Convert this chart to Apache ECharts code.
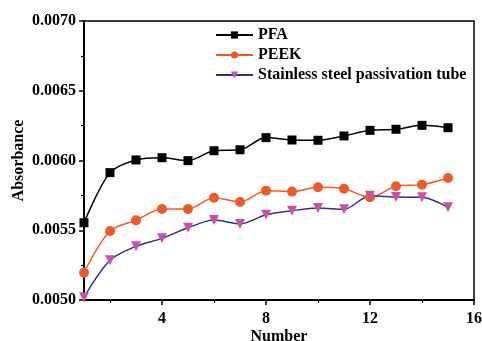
<!DOCTYPE html>
<html>
<head>
<meta charset="utf-8">
<script src="https://cdn.jsdelivr.net/npm/echarts@6/dist/echarts.min.js"></script>
<style>
  html, body { margin: 0; padding: 0; background: #fff; }
  #chart-container { width: 482px; height: 341px; }
</style>
</head>
<body>
<div id="chart-container"></div>
<script>
var numbers = [1, 2, 3, 4, 5, 6, 7, 8, 9, 10, 11, 12, 13, 14, 15];
var pfa = [0.005554, 0.005913, 0.006004, 0.006020, 0.005999, 0.006070, 0.006077, 0.006164, 0.006147, 0.006145, 0.006176, 0.006216, 0.006224, 0.006252, 0.006235];
var peek = [0.005196, 0.005495, 0.005571, 0.005652, 0.005652, 0.005733, 0.005703, 0.005784, 0.005777, 0.005808, 0.005798, 0.005736, 0.005815, 0.005827, 0.005875];
var steel = [0.005020, 0.005285, 0.005385, 0.005442, 0.005518, 0.005573, 0.005545, 0.005611, 0.005640, 0.005659, 0.005650, 0.005748, 0.005738, 0.005736, 0.005664];
var xMajorTicks = [4, 8, 12, 16];
var xMinorTicks = [2, 6, 10, 14];

function pairs(ys) {
    return numbers.map(function (x, i) { return [x, ys[i]]; });
}

var font = 'Liberation Serif';
var chartDom = document.getElementById('chart-container');
var myChart = echarts.init(chartDom);

var option = {
    animation: false,
    grid: {
        left: 84,
        right: 8,
        top: 21,
        bottom: 41,
        outerBoundsMode: 'none',
        show: true,
        borderColor: '#000',
        borderWidth: 1.5
    },
    legend: {
        orient: 'vertical',
        left: 210,
        top: 22,
        itemWidth: 37,
        itemHeight: 9,
        itemGap: 4,
        textStyle: {fontFamily: font, fontWeight: 'bold', fontSize: 16, color: '#000'},
        data: ['PFA', 'PEEK', 'Stainless steel passivation tube']
    },
    xAxis: [
        {
            type: 'value',
            min: 1,
            max: 16,
            name: 'Number',
            nameLocation: 'middle',
            nameGap: 29,
            nameMoveOverlap: false,
            nameTextStyle: {fontFamily: font, fontWeight: 'bold', fontSize: 16, color: '#000'},
            axisLine: {lineStyle: {color: '#000', width: 2}},
            axisTick: {length: 5, customValues: xMajorTicks, lineStyle: {width: 1.5}},
            axisLabel: {customValues: xMajorTicks, margin: 11, fontFamily: font, fontWeight: 'bold', fontSize: 16, color: '#000'},
            splitLine: {show: false}
        },
        {
            type: 'value',
            min: 1,
            max: 16,
            position: 'bottom',
            axisLine: {show: false},
            axisTick: {length: 3, customValues: xMinorTicks, lineStyle: {color: '#000', width: 1.2}},
            axisLabel: {show: false},
            splitLine: {show: false}
        }
    ],
    yAxis: {
        type: 'value',
        min: 0.005,
        max: 0.007,
        interval: 0.0005,
        name: 'Absorbance',
        nameLocation: 'middle',
        nameGap: 57,
        nameMoveOverlap: false,
        nameTextStyle: {fontFamily: font, fontWeight: 'bold', fontSize: 16, color: '#000'},
        axisLine: {show: true, lineStyle: {color: '#000', width: 2}},
        axisTick: {show: true, length: 5, lineStyle: {width: 1.5}},
        minorTick: {show: true, splitNumber: 2, length: 3, lineStyle: {color: '#000', width: 1.2}},
        axisLabel: {
            margin: 8,
            fontFamily: font, fontWeight: 'bold', fontSize: 16, color: '#000',
            formatter: function (v) { return v.toFixed(4); }
        },
        splitLine: {show: false}
    },
    series: [
        {
            name: 'PFA',
            type: 'line',
            smooth: 0.3,
            data: pairs(pfa),
            symbol: 'rect',
            symbolSize: 9,
            itemStyle: {color: '#000'},
            lineStyle: {color: '#000', width: 1.5}
        },
        {
            name: 'PEEK',
            type: 'line',
            smooth: 0.3,
            data: pairs(peek),
            symbol: 'circle',
            symbolSize: 10,
            itemStyle: {color: '#F05A28'},
            lineStyle: {color: '#F05A28', width: 1.5}
        },
        {
            name: 'Stainless steel passivation tube',
            type: 'line',
            smooth: 0.3,
            data: pairs(steel),
            symbol: 'triangle',
            symbolRotate: 180,
            symbolSize: 10,
            itemStyle: {color: '#C653A8'},
            lineStyle: {color: '#2E3192', width: 1.5}
        }
    ]
};

option && myChart.setOption(option);
</script>
</body>
</html>
